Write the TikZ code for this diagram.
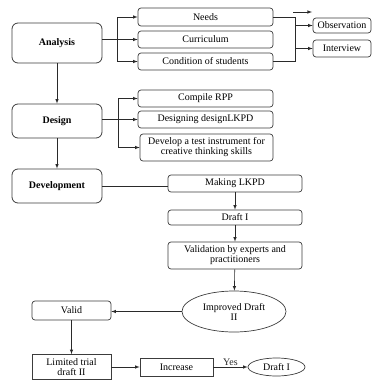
\documentclass[tikz,border=0pt]{standalone}
\usepackage{fontspec}
\setmainfont{Liberation Serif}
\usepackage{tikz}
\usetikzlibrary{arrows}
\usetikzlibrary{shapes.geometric}
\usetikzlibrary{calc}
\definecolor{boxcolor}{HTML}{3C3C3C}
\definecolor{linkcolor}{HTML}{2A2A2A}

\begin{document}
\begin{tikzpicture}[x=1pt,y=-1pt,
  stage/.style={draw=boxcolor,line width=0.8pt,rounded corners=6pt,inner sep=0pt,
    minimum width=90pt,font=\fontsize{10}{10}\selectfont\bfseries},
  item/.style={draw=boxcolor,line width=0.7pt,rounded corners=3pt,inner sep=0pt,
    minimum width=135pt,align=center,font=\fontsize{10}{10}\selectfont},
  plain/.style={draw=boxcolor,line width=0.7pt,inner sep=0pt,align=center,
    font=\fontsize{10}{10}\selectfont},
  oval/.style={draw=boxcolor,line width=0.7pt,ellipse,inner sep=0pt,align=center,
    font=\fontsize{10}{10}\selectfont},
  link/.style={linkcolor,line width=0.6pt},
  flow/.style={linkcolor,line width=0.6pt,-latex}]
\useasboundingbox (0,0) rectangle (373,380);

%% stages on the left
\node[stage,minimum height=40pt] (analysis) at (57,43) {Analysis};
\node[stage,minimum height=34pt] (design) at (57,121) {Design};
\node[stage,minimum height=34pt] (development) at (57,186) {Development};

%% analysis items
\node[item,minimum height=18pt] (needs) at (205.5,17) {Needs};
\node[item,minimum height=17pt] (curriculum) at (205.5,39.5) {Curriculum};
\node[item,minimum height=17pt] (condition) at (205.5,61.5) {Condition of students};
\node[item,minimum width=58pt,minimum height=15pt] (observation) at (342,25.5) {Observation};
\node[item,minimum width=58pt,minimum height=17pt] (interview) at (342,48.5) {Interview};

%% design items
\node[item,minimum height=17pt] (compile) at (205.5,98.5) {Compile RPP};
\node[item,minimum height=17pt] (designing) at (205.5,119.5) {Designing designLKPD};
\node[item,minimum width=133pt,minimum height=27pt] (instrument) at (206.5,147.5)
  {Develop a test instrument for\\creative thinking skills};

%% development chain
\node[item,minimum width=134pt,minimum height=17pt] (making) at (235,183.5) {Making LKPD};
\node[item,minimum width=134pt,minimum height=15pt] (draft) at (235,217.5) {Draft I};
\node[item,minimum width=134pt,minimum height=27pt] (validation) at (235,255.5)
  {Validation by experts and\\practitioners};
\node[oval,minimum width=104pt,minimum height=41pt] (improved) at (234,311.5)
  {Improved Draft\\II};
\node[item,minimum width=79pt,minimum height=19pt] (valid) at (71.5,310.5) {Valid};
\node[plain,minimum width=79pt,minimum height=25pt] (limited) at (71.5,367)
  {Limited trial\\draft II};
\node[plain,minimum width=73pt,minimum height=18pt] (increase) at (176.5,367) {Increase};
\node[oval,minimum width=57pt,minimum height=18pt] (finaldraft) at (276.5,367) {Draft I};

%% analysis connectors
\coordinate (abus) at (117,0);
\coordinate (obus) at (295,0);
\coordinate (stray) at (293,12);
\draw[flow] (analysis.east |- curriculum) -- (curriculum.west);
\draw[link] (abus |- needs) -- (abus |- condition);
\foreach \n in {needs,condition}
  \draw[flow] (abus |- \n) -- (\n.west);
\foreach \n in {needs,condition}
  \draw[link] (\n.east) -- (obus |- \n);
\draw[link] (obus |- needs) -- (obus |- condition);
\foreach \n in {observation,interview}
  \draw[flow] (obus |- \n) -- (\n.west);
\draw[flow] (stray) -- ++(19,0);

%% design connectors
\coordinate (dbus) at (118,0);
\draw[link] (dbus |- compile) -- (dbus |- instrument);
\draw[flow] (design.east |- designing) -- (designing.west);
\foreach \n in {compile,instrument}
  \draw[flow] (dbus |- \n) -- (\n.west);

%% main flow
\draw[flow] (analysis) -- (design);
\draw[flow] (design) -- (development);
\draw[link] (development.east) -- (development.east -| making.west);
\draw[flow] (making) -- (draft);
\draw[flow] (draft) -- (validation);
\draw[flow] (validation) -- (improved);
\draw[flow] (improved.west) -- (valid.east |- improved.west);
\draw[flow] (valid) -- (limited);
\draw[flow] (limited) -- (increase);
\draw[flow] (increase) -- node[above,inner sep=1pt,font=\fontsize{10}{10}\selectfont] (yes) {Yes} (finaldraft);
\end{tikzpicture}
\end{document}
